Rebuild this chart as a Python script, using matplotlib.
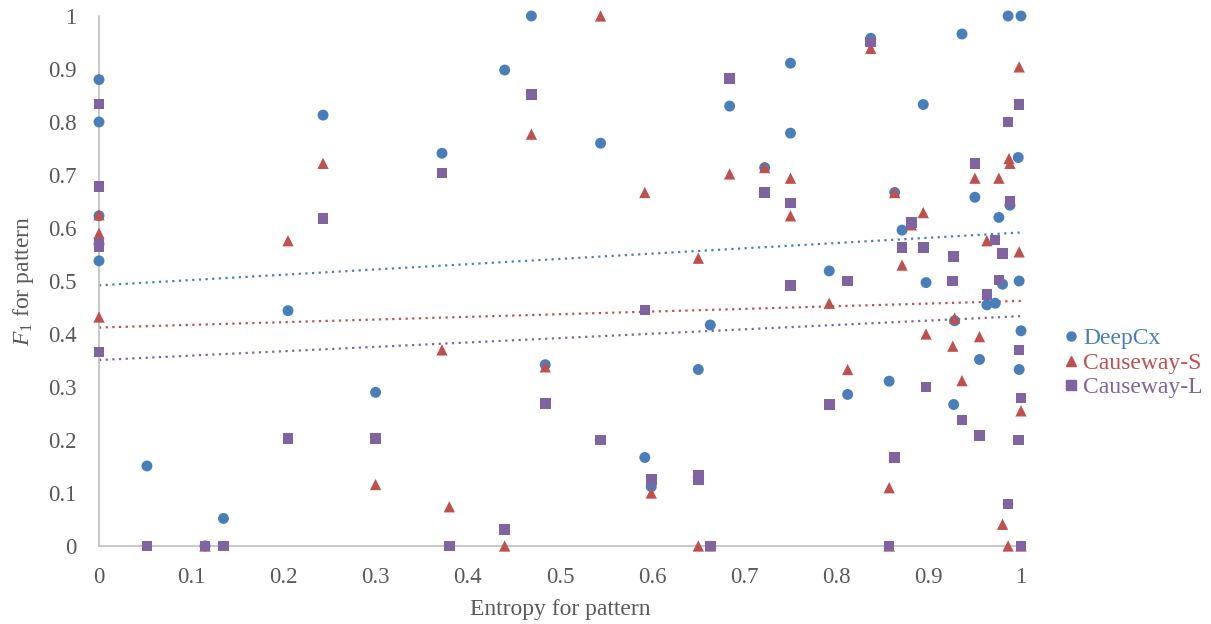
import numpy as np
import matplotlib
matplotlib.use("Agg")
import matplotlib.pyplot as plt
from matplotlib.lines import Line2D

# ---- data ----
deep_x = [0, 0, 0, 0, 0, 0.052, 0.115, 0.135, 0.205, 0.243, 0.3, 0.372, 0.44, 0.469, 0.484, 0.544,
          0.592, 0.599, 0.65, 0.65, 0.663, 0.684, 0.722, 0.75, 0.75, 0.792, 0.812, 0.837, 0.857,
          0.863, 0.871, 0.894, 0.897, 0.928, 0.927, 0.936, 0.95, 0.955, 0.963, 0.972, 0.976,
          0.98, 0.986, 0.988, 0.997, 0.998, 0.998, 1.0, 1.0]
deep_y = [0.88, 0.80, 0.623, 0.57, 0.538, 0.151, 0.0, 0.052, 0.444, 0.813, 0.29, 0.741, 0.898, 1.0, 0.342, 0.76,
          0.167, 0.112, 0.333, 0.13, 0.417, 0.83, 0.714, 0.911, 0.779, 0.519, 0.286, 0.958, 0.311,
          0.667, 0.596, 0.833, 0.497, 0.425, 0.267, 0.966, 0.658, 0.352, 0.455, 0.458, 0.62,
          0.494, 1.0, 0.643, 0.733, 0.5, 0.333, 0.406, 1.0]

cs_x = [0, 0, 0, 0.115, 0.205, 0.243, 0.3, 0.372, 0.38, 0.44, 0.469, 0.484, 0.544, 0.592, 0.599,
        0.65, 0.65, 0.663, 0.684, 0.722, 0.75, 0.75, 0.792, 0.812, 0.837, 0.857, 0.857, 0.863, 0.871,
        0.881, 0.894, 0.897, 0.926, 0.928, 0.936, 0.95, 0.955, 0.963, 0.976, 0.98, 0.986,
        0.987, 0.988, 0.998, 0.998, 1.0, 1.0]
cs_y = [0.625, 0.59, 0.432, 0.0, 0.576, 0.722, 0.116, 0.37, 0.074, 0.0, 0.777, 0.338, 1.0, 0.667, 0.1,
        0.543, 0.0, 0.0, 0.702, 0.714, 0.694, 0.623, 0.458, 0.333, 0.939, 0.11, 0.0, 0.667, 0.53,
        0.606, 0.629, 0.4, 0.377, 0.43, 0.312, 0.694, 0.395, 0.576, 0.694, 0.041, 0.0,
        0.731, 0.722, 0.904, 0.555, 0.255, 0.0]

cl_x = [0, 0, 0, 0, 0, 0.052, 0.115, 0.135, 0.205, 0.243, 0.3, 0.372, 0.38, 0.44, 0.469,
        0.484, 0.544, 0.592, 0.599, 0.65, 0.65, 0.663, 0.684, 0.722, 0.75, 0.75, 0.792,
        0.812, 0.837, 0.857, 0.863, 0.871, 0.881, 0.894, 0.897, 0.926, 0.927, 0.936, 0.95,
        0.955, 0.963, 0.972, 0.976, 0.98, 0.986, 0.986, 0.988, 0.997, 0.998, 0.998, 1.0, 1.0]
cl_y = [0.834, 0.678, 0.572, 0.565, 0.366, 0, 0, 0, 0.203, 0.618, 0.203, 0.704, 0, 0.031, 0.852,
        0.269, 0.2, 0.445, 0.125, 0.134, 0.125, 0, 0.882, 0.667, 0.647, 0.492, 0.267,
        0.5, 0.951, 0, 0.167, 0.563, 0.61, 0.563, 0.3, 0.5, 0.546, 0.238, 0.722,
        0.209, 0.474, 0.577, 0.502, 0.552, 0.8, 0.079, 0.65, 0.2, 0.833, 0.37, 0.279, 0]

x_ticks = [0, 0.1, 0.2, 0.3, 0.4, 0.5, 0.6, 0.7, 0.8, 0.9, 1]
y_ticks = [0, 0.1, 0.2, 0.3, 0.4, 0.5, 0.6, 0.7, 0.8, 0.9, 1]
x_tick_labels = ["0", "0.1", "0.2", "0.3", "0.4", "0.5", "0.6", "0.7", "0.8", "0.9", "1"]
y_tick_labels = ["0", "0.1", "0.2", "0.3", "0.4", "0.5", "0.6", "0.7", "0.8", "0.9", "1"]

names = ["DeepCx", "Causeway-S", "Causeway-L"]
colors = ["#4A7EBB", "#C0504D", "#8064A2"]
markers = ["o", "^", "s"]

plt.rcParams['font.family'] = ['Liberation Serif', 'DejaVu Serif']
plt.rcParams['mathtext.fontset'] = 'custom'
plt.rcParams['mathtext.rm'] = 'Liberation Serif'
plt.rcParams['mathtext.it'] = 'Liberation Serif:italic'

fig = plt.figure(figsize=(12.11, 6.24), dpi=100)
ax = fig.add_axes([99/1211, 1 - 546/624, (1021-99)/1211, (546-16)/624])

series = [(deep_x, deep_y), (cs_x, cs_y), (cl_x, cl_y)]
sizes = [62, 66, 58]
for (xs, ys), c, m, s in zip(series, colors, markers, sizes):
    ax.scatter(xs, ys, s=s, marker=m, color=c, edgecolors='none', clip_on=False, zorder=3)

for (xs, ys), c in zip(series, colors):
    k, b = np.polyfit(np.array(xs, float), np.array(ys, float), 1)
    xx = np.array([0.0, 1.0])
    ax.plot(xx, k*xx + b, linestyle=(0, (1, 2)), color=c, linewidth=1.6, zorder=2)

ax.set_xlim(0, 1)
ax.set_ylim(0, 1)
ax.set_xticks(x_ticks)
ax.set_xticklabels(x_tick_labels)
ax.set_yticks(y_ticks)
ax.set_yticklabels(y_tick_labels)
ax.tick_params(axis='x', length=0, labelsize=16.5, colors='#595959', pad=15)
ax.tick_params(axis='y', length=0, labelsize=16.5, colors='#595959', pad=16)
for sp in ['top', 'right']:
    ax.spines[sp].set_visible(False)
for sp in ['left', 'bottom']:
    ax.spines[sp].set_color('#BFBFBF')
    ax.spines[sp].set_linewidth(1.2)

ax.set_xlabel("Entropy for pattern", fontsize=17, color='#595959', labelpad=8)
ax.set_ylabel(r"$\mathit{F}_1$ for pattern", fontsize=17, color='#595959', labelpad=9)

handles = [Line2D([], [], marker=m, color=c, linestyle='none', markersize=6.5)
           for m, c in zip(markers, colors)]
leg = fig.legend(handles, names, loc='center left', bbox_to_anchor=(1050/1211, 1 - 363/624),
                 frameon=False, fontsize=17, handletextpad=0.0, labelspacing=0.12,
                 handlelength=1.0, borderaxespad=0)
for t, c in zip(leg.get_texts(), colors):
    t.set_color(c)

fig.savefig("out.png", dpi=100)
